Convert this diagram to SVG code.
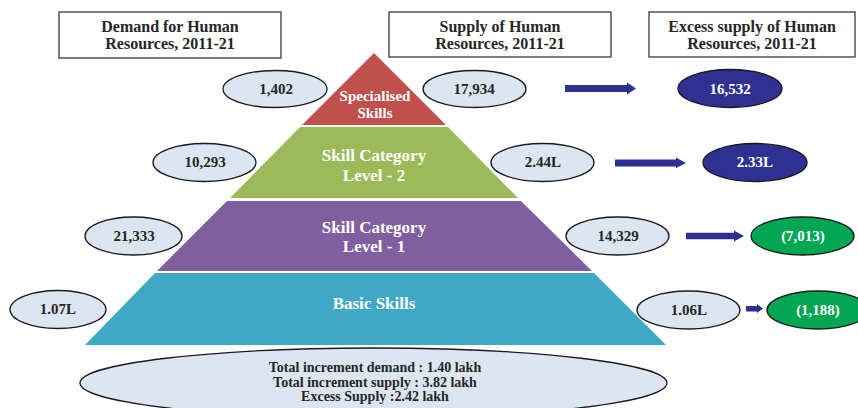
<svg xmlns="http://www.w3.org/2000/svg" width="858" height="408" viewBox="0 0 858 408" font-family="'Liberation Serif', 'Times New Roman', serif">
  <style>
    text { font-family: "Liberation Serif", "Times New Roman", serif; font-weight: bold; text-anchor: middle; }
    .hdr rect { fill: #ffffff; stroke: #3a3a3a; stroke-width: 1.3; }
    .hdr text { font-size: 16px; fill: #262626; }
    .tier text { font-size: 17px; fill: #ffffff; }
    .val ellipse { stroke: #1a1a1a; stroke-width: 1.3; }
    .val text { font-size: 15px; }
    .lite ellipse { fill: #dce6f2; }
    .lite text { fill: #262626; }
    .navy ellipse { fill: #2e3192; }
    .green ellipse { fill: #00a651; }
    .navy text, .green text { fill: #ffffff; }
    .arrow { fill: #2e3192; }
    .total ellipse { fill: #dce6f2; stroke: #1a1a1a; stroke-width: 1.3; }
    .total text { font-size: 14px; fill: #262626; }
  </style>

  <!-- column headings -->
  <g id="hdr-demand" class="hdr">
    <rect x="59" y="12" width="222" height="46"/>
    <text x="170" y="32">Demand for Human</text>
    <text x="170" y="49">Resources, 2011-21</text>
  </g>
  <g id="hdr-supply" class="hdr">
    <rect x="389" y="12" width="222" height="45"/>
    <text x="500" y="32">Supply of Human</text>
    <text x="500" y="49">Resources, 2011-21</text>
  </g>
  <g id="hdr-excess" class="hdr">
    <rect x="649" y="12" width="206" height="45"/>
    <text x="752" y="32">Excess supply of Human</text>
    <text x="752" y="49">Resources, 2011-21</text>
  </g>

  <!-- skill pyramid, top to bottom -->
  <g id="tier-specialised" class="tier">
    <polygon points="374,53 446,125 302,125" fill="#c0504d"/>
    <text x="375" y="101" style="font-size:15px">Specialised</text>
    <text x="375" y="118" style="font-size:15px">Skills</text>
  </g>
  <g id="tier-level2" class="tier">
    <polygon points="300,127 448,127 518,198 230,198" fill="#9bbb59"/>
    <text x="374" y="161">Skill Category</text>
    <text x="374" y="181">Level - 2</text>
  </g>
  <g id="tier-level1" class="tier">
    <polygon points="227,201 521,201 592,271 157,271" fill="#7f5fa0"/>
    <text x="374" y="233">Skill Category</text>
    <text x="374" y="252">Level - 1</text>
  </g>
  <g id="tier-basic" class="tier">
    <polygon points="155,273 594,273 666,345 85,345" fill="#3fa9c5"/>
    <text x="374" y="309">Basic Skills</text>
  </g>

  <!-- demand values -->
  <g id="demand-specialised" class="val lite">
    <ellipse cx="275" cy="89" rx="52" ry="18.5"/>
    <text x="276" y="94">1,402</text>
  </g>
  <g id="demand-level2" class="val lite">
    <ellipse cx="204.5" cy="162.5" rx="51.5" ry="19"/>
    <text x="205" y="167">10,293</text>
  </g>
  <g id="demand-level1" class="val lite">
    <ellipse cx="133.5" cy="236" rx="48.5" ry="19"/>
    <text x="134" y="241">21,333</text>
  </g>
  <g id="demand-basic" class="val lite">
    <ellipse cx="58" cy="309.5" rx="48" ry="19"/>
    <text x="58" y="314">1.07L</text>
  </g>

  <!-- supply values -->
  <g id="supply-specialised" class="val lite">
    <ellipse cx="474.5" cy="89" rx="51.5" ry="18.5"/>
    <text x="474" y="94">17,934</text>
  </g>
  <g id="supply-level2" class="val lite">
    <ellipse cx="542.5" cy="162.5" rx="51.5" ry="19"/>
    <text x="543" y="167">2.44L</text>
  </g>
  <g id="supply-level1" class="val lite">
    <ellipse cx="617.5" cy="236" rx="51.5" ry="19"/>
    <text x="618" y="241">14,329</text>
  </g>
  <g id="supply-basic" class="val lite">
    <ellipse cx="688.5" cy="310" rx="51.5" ry="19"/>
    <text x="689" y="315">1.06L</text>
  </g>

  <!-- excess supply values -->
  <g id="excess-specialised" class="val navy">
    <ellipse cx="730" cy="88.5" rx="52" ry="19"/>
    <text x="730" y="93.5">16,532</text>
  </g>
  <g id="excess-level2" class="val navy">
    <ellipse cx="755" cy="162.5" rx="52" ry="19"/>
    <text x="755" y="167">2.33L</text>
  </g>
  <g id="excess-level1" class="val green">
    <ellipse cx="802.5" cy="236" rx="51.5" ry="19"/>
    <text x="803" y="241">(7,013)</text>
  </g>
  <g id="excess-basic" class="val green">
    <ellipse cx="818" cy="310" rx="51" ry="19"/>
    <text x="818" y="315">(1,188)</text>
  </g>

  <!-- supply to excess arrows -->
  <g id="connectors">
    <path class="arrow" d="M565,85 H627 V82.5 L636,88.5 L627,94.5 V92 H565 Z"/>
    <path class="arrow" d="M615,159.5 H676 V157.5 L686,163 L676,168 V166.5 H615 Z"/>
    <path class="arrow" d="M686,232.7 H734 V230.5 L744,236 L734,241.5 V239.3 H686 Z"/>
    <path class="arrow" d="M746,306 H757 V304 L763,308.5 L757,313 V311.5 H746 Z"/>
  </g>

  <!-- overall totals -->
  <g id="totals" class="total">
    <ellipse cx="373.5" cy="383" rx="293.5" ry="35"/>
    <text x="375" y="372">Total increment demand : 1.40 lakh</text>
    <text x="375" y="387">Total increment supply : 3.82 lakh</text>
    <text x="375" y="401">Excess Supply :2.42 lakh</text>
  </g>
</svg>
